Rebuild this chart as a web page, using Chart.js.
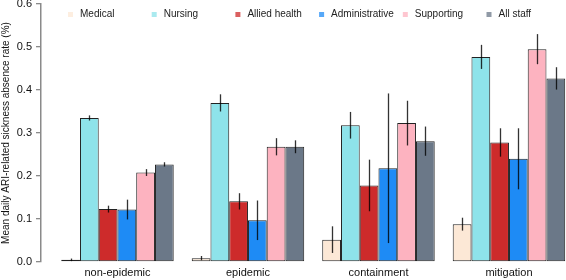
<!DOCTYPE html>
<html>
<head>
<meta charset="utf-8">
<script src="https://cdn.jsdelivr.net/npm/chart.js@4"></script>
<style>
  html, body { margin: 0; padding: 0; background: #fff; overflow: hidden; }
</style>
</head>
<body>
<canvas id="chart" width="566" height="280"></canvas>
<script>
const phases = ["non-epidemic", "epidemic", "containment", "mitigation"];
const staffGroups = ["Medical", "Nursing", "Allied health", "Administrative", "Supporting", "All staff"];
const yTicks = [0, 0.1, 0.2, 0.3, 0.4, 0.5, 0.6];

// mean daily rate per phase, one array per staff group
const medicalRate = [0.005, 0.009, 0.052, 0.088];
const nursingRate = [0.335, 0.370, 0.318, 0.477];
const alliedRate = [0.123, 0.141, 0.178, 0.278];
const adminRate = [0.122, 0.097, 0.218, 0.240];
const supportRate = [0.208, 0.268, 0.323, 0.495];
const allStaffRate = [0.227, 0.268, 0.281, 0.427];

// half length of the error bars
const medicalErr = [0.003, 0.005, 0.031, 0.015];
const nursingErr = [0.006, 0.020, 0.031, 0.028];
const alliedErr = [0.008, 0.019, 0.060, 0.033];
const adminErr = [0.023, 0.046, 0.174, 0.071];
const supportErr = [0.008, 0.020, 0.052, 0.035];
const allStaffErr = [0.005, 0.015, 0.034, 0.026];

const rates = [medicalRate, nursingRate, alliedRate, adminRate, supportRate, allStaffRate];
const errors = [medicalErr, nursingErr, alliedErr, adminErr, supportErr, allStaffErr];
const colors = ["#FCE8D6", "#8EE3EA", "#CD2B2B", "#1E8BF5", "#FDB3C0", "#6B7888"];

const FONT = "'Liberation Sans', Arial, Helvetica, sans-serif";

const errorBars = {
  id: "errorBars",
  afterDatasetsDraw(chart) {
    const ctx = chart.ctx;
    const y = chart.scales.y;
    ctx.save();
    ctx.strokeStyle = "rgba(0,0,0,0.8)";
    ctx.lineWidth = 1.3;
    chart.data.datasets.forEach((ds, di) => {
      const meta = chart.getDatasetMeta(di);
      meta.data.forEach((bar, i) => {
        const v = ds.data[i].y;
        const e = errors[di][i];
        const x = Math.round(bar.x) + 0.5;
        ctx.beginPath();
        ctx.moveTo(x, y.getPixelForValue(v + e));
        ctx.lineTo(x, y.getPixelForValue(Math.max(v - e, 0)));
        ctx.stroke();
      });
    });
    ctx.restore();
  }
};

const insideLegend = {
  id: "insideLegend",
  afterDraw(chart) {
    const ctx = chart.ctx;
    ctx.save();
    ctx.font = "10px " + FONT;
    ctx.textBaseline = "middle";
    chart.data.datasets.forEach((ds, i) => {
      const x0 = 68 + i * 83.7;
      ctx.globalAlpha = 0.75;
      ctx.fillStyle = ds.backgroundColor;
      ctx.fillRect(x0, 12, 5, 5);
      ctx.globalAlpha = 1;
      ctx.fillStyle = "#222";
      ctx.fillText(ds.label, x0 + 12, 14.5);
    });
    ctx.restore();
  }
};

new Chart(document.getElementById("chart"), {
  type: "bar",
  data: {
    datasets: staffGroups.map((name, i) => ({
      label: name,
      data: rates[i].map((v, j) => ({ x: j, y: v })),
      backgroundColor: colors[i],
      borderColor: "#222",
      borderWidth: 1,
      borderSkipped: false,
      categoryPercentage: 0.862,
      barPercentage: 1
    }))
  },
  options: {
    responsive: false,
    animation: false,
    devicePixelRatio: 1,
    layout: { padding: { top: 4, right: 0, bottom: 0, left: 0 } },
    plugins: { legend: { display: false }, tooltip: { enabled: false } },
    scales: {
      x: {
        type: "linear",
        offset: false,
        min: -0.586,
        max: 3.437,
        afterBuildTicks: (axis) => { axis.ticks = phases.map((_, i) => ({ value: i })); },
        afterFit: (axis) => { axis.height = 18; axis.paddingLeft = 0; axis.paddingRight = 0; },
        grid: { display: false, drawTicks: false, offset: false },
        border: { display: false },
        ticks: {
          padding: 4,
          maxRotation: 0,
          autoSkip: false,
          color: "#111",
          font: { family: FONT, size: 11 },
          callback: (v) => phases[v] ?? ""
        }
      },
      y: {
        min: 0,
        max: 0.6,
        afterBuildTicks: (axis) => { axis.ticks = yTicks.map((v) => ({ value: v })); },
        afterFit: (axis) => { axis.width = 41; axis.paddingTop = 0; axis.paddingBottom = 0; },
        grid: { drawOnChartArea: false, drawTicks: true, tickLength: 5, color: "#8a8a8a", lineWidth: 1.3 },
        border: { display: true, color: "#8a8a8a", width: 1.5 },
        ticks: {
          padding: 4,
          color: "#111",
          font: { family: FONT, size: 11 },
          callback: (v) => Number(v).toFixed(1)
        },
        title: {
          display: true,
          text: "Mean daily ARI-related sickness absence rate (%)",
          color: "#111",
          font: { family: FONT, size: 10 },
          padding: { top: 0, bottom: 0 }
        }
      }
    }
  },
  plugins: [errorBars, insideLegend]
});
</script>
</body>
</html>
